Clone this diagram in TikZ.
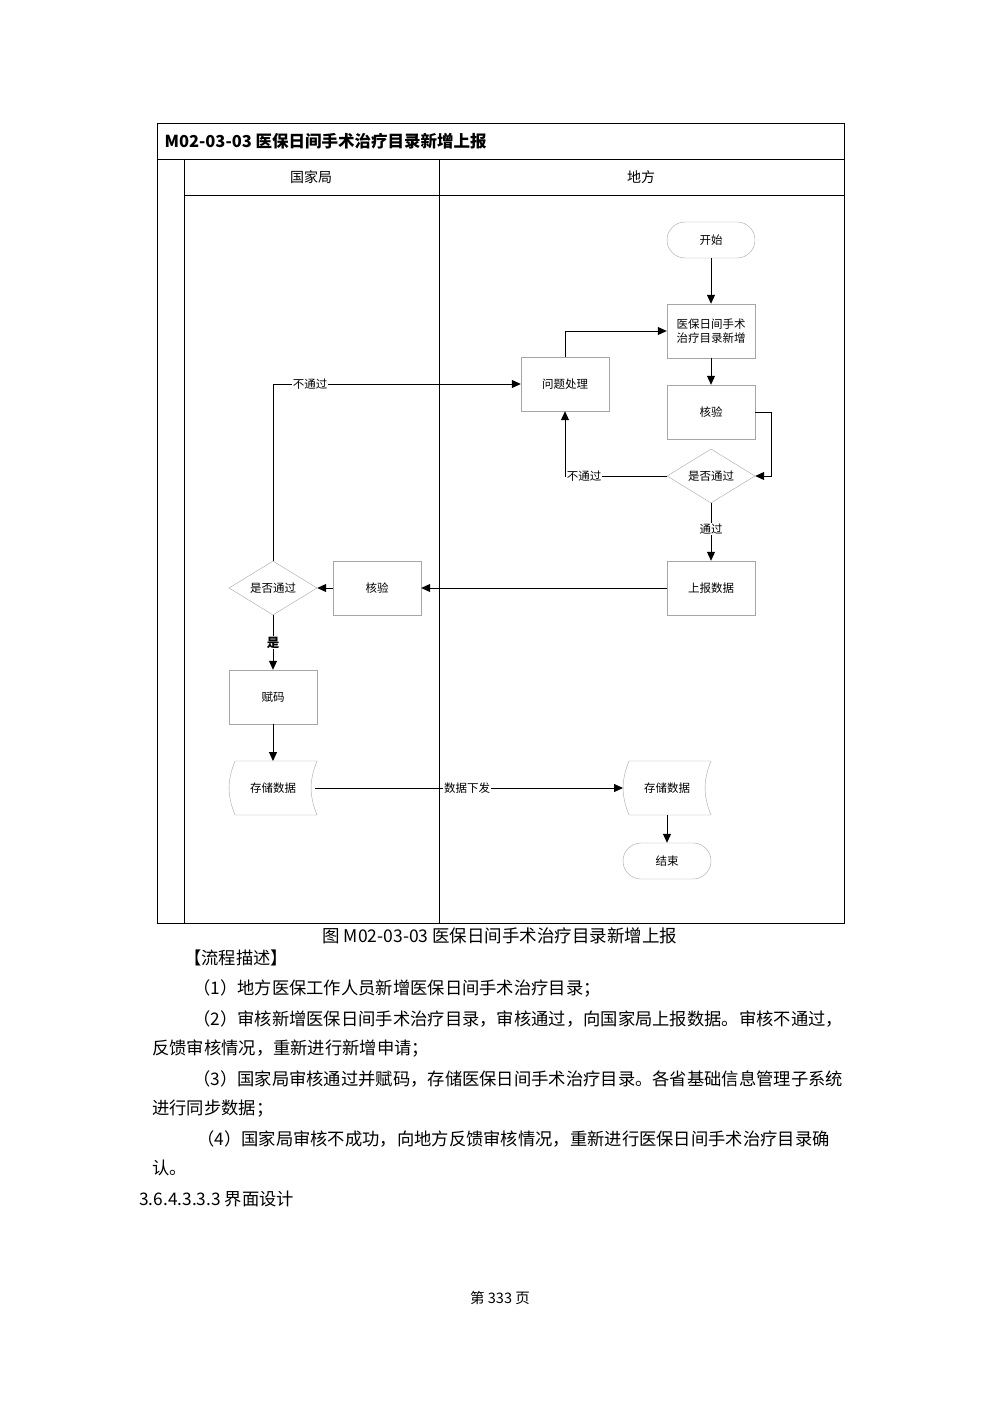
\documentclass[tikz,border=0pt]{standalone}
\usepackage{fontspec}
\setmainfont{Noto Sans CJK SC}
\usetikzlibrary{shapes.geometric,arrows.meta}
\begin{document}
\begin{tikzpicture}[x=1pt,y=-1pt,
  box/.style={draw=gray!70,minimum width=88pt,minimum height=54pt,font=\fontsize{11.5}{13.5}\selectfont,align=center,inner sep=1pt},
  term/.style={draw=gray!70,rounded corners=18pt,minimum width=88pt,minimum height=36pt,font=\fontsize{11.5}{13}\selectfont},
  dia/.style={draw=gray!70,diamond,aspect=1.63,minimum width=88pt,minimum height=54pt,inner sep=0pt,font=\fontsize{11.5}{13}\selectfont},
  lbl/.style={fill=white,inner sep=1pt,font=\fontsize{11.5}{13}\selectfont},
  arr/.style={-{Triangle[length=9pt,width=8pt]},line width=1pt},
  para/.style={anchor=west,font=\fontsize{17.3}{20}\selectfont,inner sep=0pt}]
\useasboundingbox (0,0) rectangle (1000,1415);
\fill[white] (0,0) rectangle (1000,1415);
% frame
\draw[line width=0.8pt] (157,123) rectangle (844,923);
\draw[line width=0.8pt] (157,159) -- (844,159);
\draw[line width=0.8pt] (184,195) -- (844,195);
\draw[line width=0.8pt] (184,159) -- (184,923);
\draw[line width=0.8pt] (439,159) -- (439,923);
\node[anchor=west,font=\bfseries\fontsize{16.5}{18}\selectfont] (title) at (161,141) {M02-03-03 医保日间手术治疗目录新增上报};
\node[font=\fontsize{14}{16}\selectfont] (h1) at (311,177) {国家局};
\node[font=\fontsize{14}{16}\selectfont] (h2) at (641,177) {地方};
% nodes
\node[term] (start) at (711,240) {开始};
\node[box] (add) at (711,331) {医保日间手术\\治疗目录新增};
\node[box] (prob) at (565,384) {问题处理};
\node[box] (chk1) at (711,412) {核验};
\node[dia] (d1) at (711,476) {是否通过};
\node[box] (rep) at (711,588) {上报数据};
\node[box] (chk2) at (377,588) {核验};
\node[dia] (d2) at (273,588) {是否通过};
\node[box] (code) at (273,697) {赋码};
\node[term] (endn) at (667,861) {结束};
% storage shapes
\foreach \n/\x in {st1/273,st2/667}{
  \draw[gray!70] (\x-38,761) -- (\x+44,761) to[bend right=22] (\x+44,815) -- (\x-38,815) to[bend left=22] (\x-38,761);
  \node[font=\fontsize{11.5}{13}\selectfont,minimum width=80pt,minimum height=54pt] (\n) at (\x,788) {存储数据};
}
% edges
\draw[arr] (start) -- (add);
\draw[arr] (add) -- (chk1);
\coordinate (c1) at (771,412);
\coordinate (c2) at (771,476);
\draw[arr] (chk1.east) -- (c1) -- (c2) -- (d1.east);
\coordinate (c3) at (565,476);
\draw[arr] (d1.west) -- (c3) -- (prob.south);
\node[lbl] (nb1) at (584,476) {不通过};
\coordinate (c4) at (565,331);
\draw[arr] (prob.north) -- (c4) -- (add.west);
\draw[arr] (d1.south) -- (rep.north) node[lbl,pos=0.45] (tg) {通过};
\draw[arr] (rep.west) -- (chk2.east);
\draw[arr] (chk2.west) -- (d2.east);
\coordinate (c5) at (273,384);
\draw[arr] (d2.north) -- (c5) -- (prob.west);
\node[lbl] (nb2) at (310,384) {不通过};
\draw[arr] (d2.south) -- (code.north) node[lbl,pos=0.5,font=\bfseries\fontsize{12.5}{14}\selectfont] (yes) {是};
\draw[arr] (code.south) -- (273,761);
\draw[arr] (315,788) -- (623,788);
\node[lbl] (xf) at (467,788) {数据下发};
\draw[arr] (667,815) -- (endn.north);
% text below
\node[font=\fontsize{17.5}{20}\selectfont] (cap) at (500,936) {图 M02-03-03 医保日间手术治疗目录新增上报};
\node[para] (p0) at (184,958) {【流程描述】};
\node[para] (p1) at (193,988) {（1）地方医保工作人员新增医保日间手术治疗目录；};
\node[para] (p2) at (193,1019) {（2）审核新增医保日间手术治疗目录，审核通过，向国家局上报数据。审核不通过，};
\node[para] (p2b) at (152,1049) {反馈审核情况，重新进行新增申请；};
\node[para] (p3) at (193,1079) {（3）国家局审核通过并赋码，存储医保日间手术治疗目录。各省基础信息管理子系统};
\node[para] (p3b) at (152,1109) {进行同步数据；};
\node[para] (p4) at (197,1139) {（4）国家局审核不成功，向地方反馈审核情况，重新进行医保日间手术治疗目录确};
\node[para] (p4b) at (152,1168) {认。};
\node[para] (p5) at (139,1199) {3.6.4.3.3.3 界面设计};
\node[font=\fontsize{14.5}{16}\selectfont] (pg) at (500,1298) {第 333 页};
\end{tikzpicture}
\end{document}
